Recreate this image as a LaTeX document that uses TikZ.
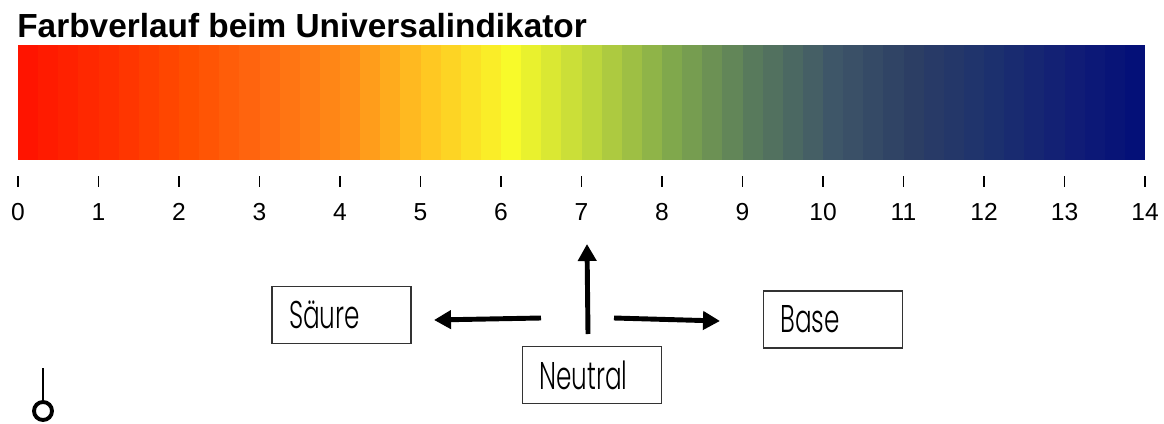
\documentclass[tikz,border=0pt]{standalone}
\usepackage{fontspec}
\setmainfont{Liberation Sans}
\newfontfamily\handfont[FakeStretch=0.64]{Poppins Light}
\usetikzlibrary{arrows.meta,positioning}

% colour stops of the indicator scale (pH 0 ... 14)
\definecolor{c0}{HTML}{FF1400}
\definecolor{c1}{HTML}{FF2E00}
\definecolor{c2}{HTML}{FF4E00}
\definecolor{c3}{HTML}{FF6C12}
\definecolor{c4}{HTML}{FF8E18}
\definecolor{c5}{HTML}{FFC822}
\definecolor{c6}{HTML}{F8FA2A}
\definecolor{c7}{HTML}{BCD63C}
\definecolor{c8}{HTML}{80A84C}
\definecolor{c9}{HTML}{587A5C}
\definecolor{c10}{HTML}{3E5668}
\definecolor{c11}{HTML}{2C3E64}
\definecolor{c12}{HTML}{1C306E}
\definecolor{c13}{HTML}{101C76}
\definecolor{c14}{HTML}{000C78}

\begin{document}
\begin{tikzpicture}[
    x=0.02cm, y=-0.02cm,
    >=Stealth,
    box/.style={draw=black!80, line width=0.6pt, minimum width=2.78cm,
      minimum height=1.14cm, text width=2.1cm, align=left, inner xsep=0.34cm,
      font=\handfont\fontsize{22}{25}\selectfont},
    phtick/.style={line width=0.8pt},
    phlabel/.style={font=\fontsize{14}{16}\selectfont},
    bigarrow/.style={line width=2.8pt, -{Triangle[length=0.34cm,width=0.36cm]}},
  ]
  \useasboundingbox (0,0) rectangle (1164,423);

  % Title
  \node[anchor=base west, inner sep=0, font=\bfseries\fontsize{19}{22}\selectfont]
    (title) at (17,37) {Farbverlauf beim Universalindikator};

  % Colour bar
  \foreach \i in {0,...,13} {
    \pgfmathtruncatemacro\j{\i+1}
    \foreach \k in {0,...,3} {
      \pgfmathtruncatemacro\p{100-25*\k}
      \fill[c\i!\p!c\j] (18+80.5*\i+20.125*\k,45) rectangle (18+80.5*\i+20.125*\k+20.6,160);
    }
  }

  % pH scale
  \foreach \n in {0,...,14} {
    \draw[phtick] (18+80.5*\n,176) -- (18+80.5*\n,187);
    \node[phlabel] (ph\n) at (18+80.5*\n,212) {\n};
  }

  % Boxes
  \node[box] (saeure) at (341.5,315) {Säure};
  \node[box] (neutral) at (592,375) {\raisebox{-0.03cm}{Neutral}};
  \node[box] (base) at (833,319.5) {\raisebox{-0.12cm}{Base}};

  % Arrows
  \coordinate (leftfrom) at (541,318);
  \coordinate (leftto) at (434,320);
  \coordinate (upfrom) at (588,334);
  \coordinate (upto) at (587,244);
  \coordinate (rightfrom) at (614,318);
  \coordinate (rightto) at (720,321);
  \draw[bigarrow] (leftfrom) -- (leftto);
  \draw[bigarrow] (upfrom) -- (upto);
  \draw[bigarrow] (rightfrom) -- (rightto);

  % small mark bottom left
  \draw[line width=0.6pt] (43,368) -- (43,401);
  \draw[line width=2.2pt] (43,411) circle[radius=9];
\end{tikzpicture}
\end{document}
